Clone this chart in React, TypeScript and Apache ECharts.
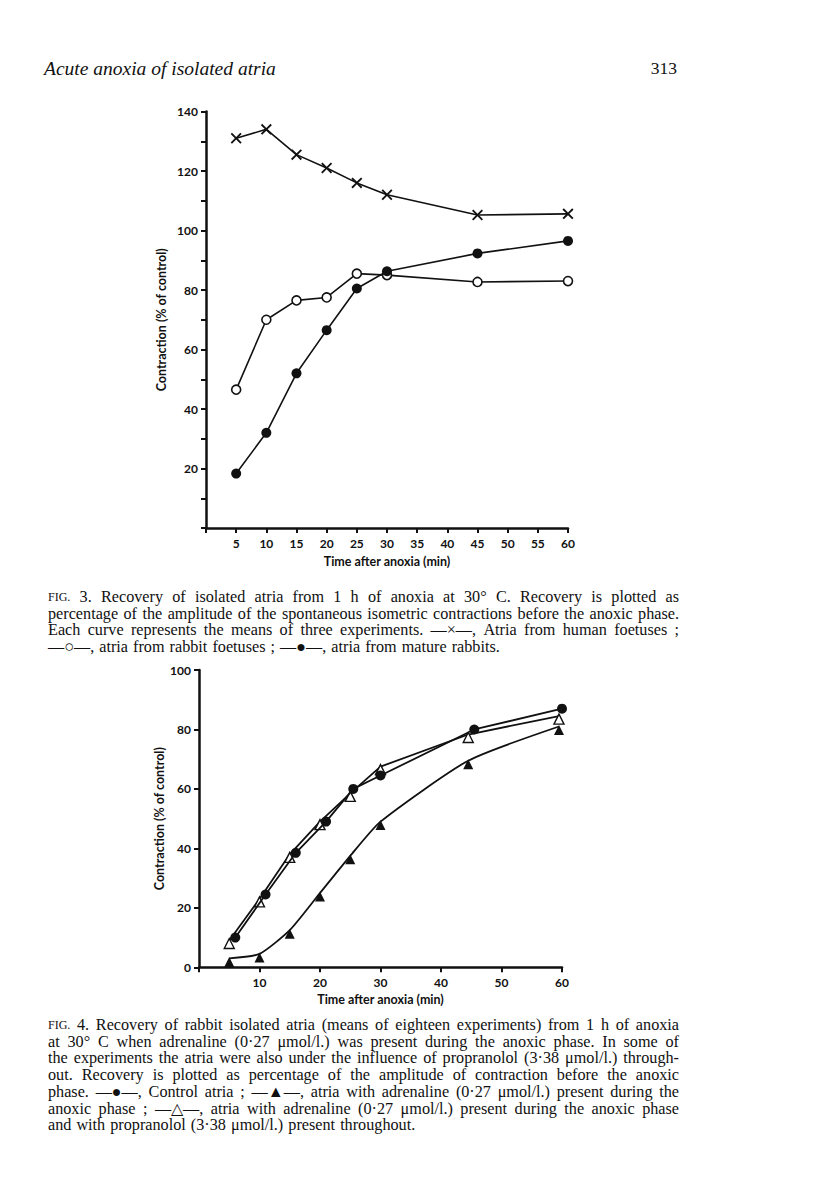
import React, { useEffect, useRef } from "react";
import * as echarts from "echarts";

// ---------- Data ----------
const fig3Times = [5, 10, 15, 20, 25, 30, 45, 60];
const fig3Human = [131, 134, 125.5, 121, 116, 112, 105.2, 105.6];
const fig3RabbitFoetus = [46.5, 70, 76.5, 77.5, 85.5, 85, 82.7, 83];
const fig3Mature = [18.3, 32, 52, 66.5, 80.5, 86.3, 92.3, 96.5];

const fig4ControlTimes = [6, 11, 16, 21, 25.5, 30, 45.5, 60];
const fig4Control = [10, 24.5, 38.5, 49, 60, 64.5, 80, 87];
const fig4TriTimes = [5, 10, 15, 20, 25, 30, 44.5, 59.5];
const fig4AdrProp = [9, 23, 38, 49, 58.5, 67.5, 78.3, 84.5];
const fig4Adr = [3, 4.5, 12.5, 25, 37.5, 49, 69.5, 81];

const headerTitle = "Acute anoxia of isolated atria";
const pageNumber = "313";

const fig3Caption = [
  "FIG. 3.  Recovery of isolated atria from 1 h of anoxia at 30° C.  Recovery is plotted as",
  "percentage of the amplitude of the spontaneous isometric contractions before the anoxic phase.",
  "Each curve represents the means of three experiments.  —×—, Atria from human foetuses ;",
  "—○—, atria from rabbit foetuses ; —●—, atria from mature rabbits.",
];
const fig4Caption = [
  "FIG. 4.  Recovery of rabbit isolated atria (means of eighteen experiments) from 1 h of anoxia",
  "at 30° C when adrenaline (0·27 μmol/l.) was present during the anoxic phase.  In some of",
  "the experiments the atria were also under the influence of propranolol (3·38 μmol/l.) through-",
  "out.  Recovery is plotted as percentage of the amplitude of contraction before the anoxic",
  "phase.  —●—, Control atria ; —▲—, atria with adrenaline (0·27 μmol/l.) present during the",
  "anoxic phase ; —△—, atria with adrenaline (0·27 μmol/l.) present during the anoxic phase",
  "and with propranolol (3·38 μmol/l.) present throughout.",
];

const zip = (xs: number[], ys: number[]) => xs.map((x, i) => [x, ys[i]]);

const INK = "#111111";
const SERIF = '"Liberation Serif", "Times New Roman", serif';
const SANS = "Lato, 'Open Sans', sans-serif";
const CAP_SIZE = 16.2;
const FIG_SIZE = 12;

let measureCtx: CanvasRenderingContext2D | null = null;
function measure(text: string, size: number) {
  if (!measureCtx) measureCtx = document.createElement("canvas").getContext("2d");
  measureCtx!.font = `normal ${size}px ${SERIF}`;
  return measureCtx!.measureText(text).width;
}

function captionGraphics(lines: string[], x0: number, y0: number, width: number, lh: number) {
  const els: any[] = [];
  lines.forEach((line, li) => {
    const words = line.split(/ +/);
    const sizes = words.map((w) => (w === "FIG." ? FIG_SIZE : CAP_SIZE));
    const widths = words.map((w, i) => measure(w, sizes[i]));
    const total = widths.reduce((a, b) => a + b, 0);
    const last = li === lines.length - 1;
    const normal = measure(" ", CAP_SIZE) * 1.25;
    const gap = last || words.length < 2 ? normal : Math.max(2, (width - total) / (words.length - 1));
    let x = x0;
    const y = y0 + li * lh;
    words.forEach((w, i) => {
      els.push({
        type: "text",
        x,
        y,
        silent: true,
        style: {
          text: w,
          fontSize: sizes[i],
          fontFamily: SERIF,
          fill: INK,
          align: "left",
          verticalAlign: "middle",
        },
      });
      x += widths[i] + gap;
    });
  });
  return els;
}

const XMARK = "path://M0,1.2 L1.2,0 L5,3.8 L8.8,0 L10,1.2 L6.2,5 L10,8.8 L8.8,10 L5,6.2 L1.2,10 L0,8.8 L3.8,5 Z";

function axisCommon() {
  return {
    axisLine: { show: true, onZero: false, lineStyle: { color: INK, width: 2.5 } },
    axisTick: { show: true, length: 5, lineStyle: { color: INK, width: 2 } },
    splitLine: { show: false },
    axisLabel: { color: INK, fontFamily: SANS, fontWeight: "bold", fontSize: 12 },
    nameTextStyle: { color: INK, fontFamily: SANS, fontWeight: "bold", fontSize: 12.5 },
  };
}

export default function App() {
  const ref = useRef<HTMLDivElement>(null);
  useEffect(() => {
    if (!ref.current) return;
    const chart = echarts.init(ref.current, undefined, { renderer: "svg" });
    const ac = axisCommon();
    const option: any = {
      animation: false,
      backgroundColor: "#ffffff",
      grid: [
        { left: 206, top: 111.5, width: 362, height: 416.5, containLabel: false, outerBoundsMode: "none" },
        { left: 199, top: 670, width: 363, height: 297.3, containLabel: false, outerBoundsMode: "none" },
      ],
      xAxis: [
        {
          gridIndex: 0,
          type: "value",
          min: 0,
          max: 60,
          interval: 5,
          ...ac,
          axisLabel: { ...ac.axisLabel, margin: 9, formatter: (v: number) => (v === 0 ? "" : String(v)) },
          name: "Time after anoxia (min)",
          nameLocation: "middle",
          nameGap: 27,
        },
        {
          gridIndex: 1,
          type: "value",
          min: 0,
          max: 60,
          interval: 10,
          ...ac,
          axisLabel: { ...ac.axisLabel, margin: 9, formatter: (v: number) => (v === 0 ? "" : String(v)) },
          name: "Time after anoxia (min)",
          nameLocation: "middle",
          nameGap: 26,
        },
      ],
      yAxis: [
        {
          gridIndex: 0,
          type: "value",
          min: 0,
          max: 140,
          interval: 20,
          ...ac,
          minorTick: { show: true, splitNumber: 2, length: 5, lineStyle: { color: INK, width: 2 } },
          axisLabel: { ...ac.axisLabel, margin: 8, formatter: (v: number) => (v === 0 ? "" : String(v)) },
          name: "Contraction (% of control)",
          nameLocation: "middle",
          nameRotate: 90,
          nameGap: 38,
        },
        {
          gridIndex: 1,
          type: "value",
          min: 0,
          max: 100,
          interval: 20,
          ...ac,
          axisLabel: { ...ac.axisLabel, margin: 8 },
          name: "Contraction (% of control)",
          nameLocation: "middle",
          nameRotate: 90,
          nameGap: 32,
        },
      ],
      series: [
        {
          name: "Atria from human foetuses",
          type: "line",
          xAxisIndex: 0,
          yAxisIndex: 0,
          data: zip(fig3Times, fig3Human),
          symbol: XMARK,
          symbolSize: 11,
          lineStyle: { color: INK, width: 1.6 },
          itemStyle: { color: INK },
        },
        {
          name: "Atria from rabbit foetuses",
          type: "line",
          xAxisIndex: 0,
          yAxisIndex: 0,
          data: zip(fig3Times, fig3RabbitFoetus),
          symbol: "circle",
          symbolSize: 9,
          lineStyle: { color: INK, width: 1.6 },
          itemStyle: { color: "#ffffff", borderColor: INK, borderWidth: 1.6 },
          z: 3,
        },
        {
          name: "Atria from mature rabbits",
          type: "line",
          xAxisIndex: 0,
          yAxisIndex: 0,
          data: zip(fig3Times, fig3Mature),
          symbol: "circle",
          symbolSize: 10,
          lineStyle: { color: INK, width: 1.6 },
          itemStyle: { color: INK },
          z: 4,
        },
        {
          name: "Control atria",
          type: "line",
          xAxisIndex: 1,
          yAxisIndex: 1,
          data: zip(fig4ControlTimes, fig4Control),
          symbol: "circle",
          symbolSize: 10,
          lineStyle: { color: INK, width: 1.8 },
          itemStyle: { color: INK },
          z: 4,
        },
        {
          name: "Adrenaline + propranolol",
          type: "line",
          xAxisIndex: 1,
          yAxisIndex: 1,
          data: zip(fig4TriTimes, fig4AdrProp),
          symbol: "triangle",
          symbolSize: 10,
          symbolOffset: [0, 3],
          lineStyle: { color: INK, width: 1.8 },
          itemStyle: { color: "#ffffff", borderColor: INK, borderWidth: 1.4 },
          z: 3,
        },
        {
          name: "Adrenaline",
          type: "line",
          xAxisIndex: 1,
          yAxisIndex: 1,
          data: zip(fig4TriTimes, fig4Adr),
          symbol: "triangle",
          symbolSize: 10,
          symbolOffset: [0, 3.5],
          smooth: 0.2,
          lineStyle: { color: INK, width: 1.8 },
          itemStyle: { color: INK },
          z: 3,
        },
      ],
      graphic: [
        {
          type: "text",
          x: 44,
          y: 68,
          silent: true,
          style: {
            text: headerTitle,
            fontSize: 19.5,
            fontStyle: "italic",
            fontFamily: SERIF,
            fill: INK,
            align: "left",
            verticalAlign: "middle",
          },
        },
        {
          type: "text",
          x: 677,
          y: 68,
          silent: true,
          style: {
            text: pageNumber,
            fontSize: 17.5,
            fontFamily: SERIF,
            fill: INK,
            align: "right",
            verticalAlign: "middle",
          },
        },
        ...captionGraphics(fig3Caption, 48, 597, 631, 16.7),
        ...captionGraphics(fig4Caption, 48, 1025, 631, 16.7),
      ],
    };
    chart.setOption(option);
    return () => chart.dispose();
  }, []);
  return (
    <div
      ref={ref}
      style={{ position: "absolute", left: 0, top: 0, width: 816, height: 1204, background: "#fff" }}
    />
  );
}
